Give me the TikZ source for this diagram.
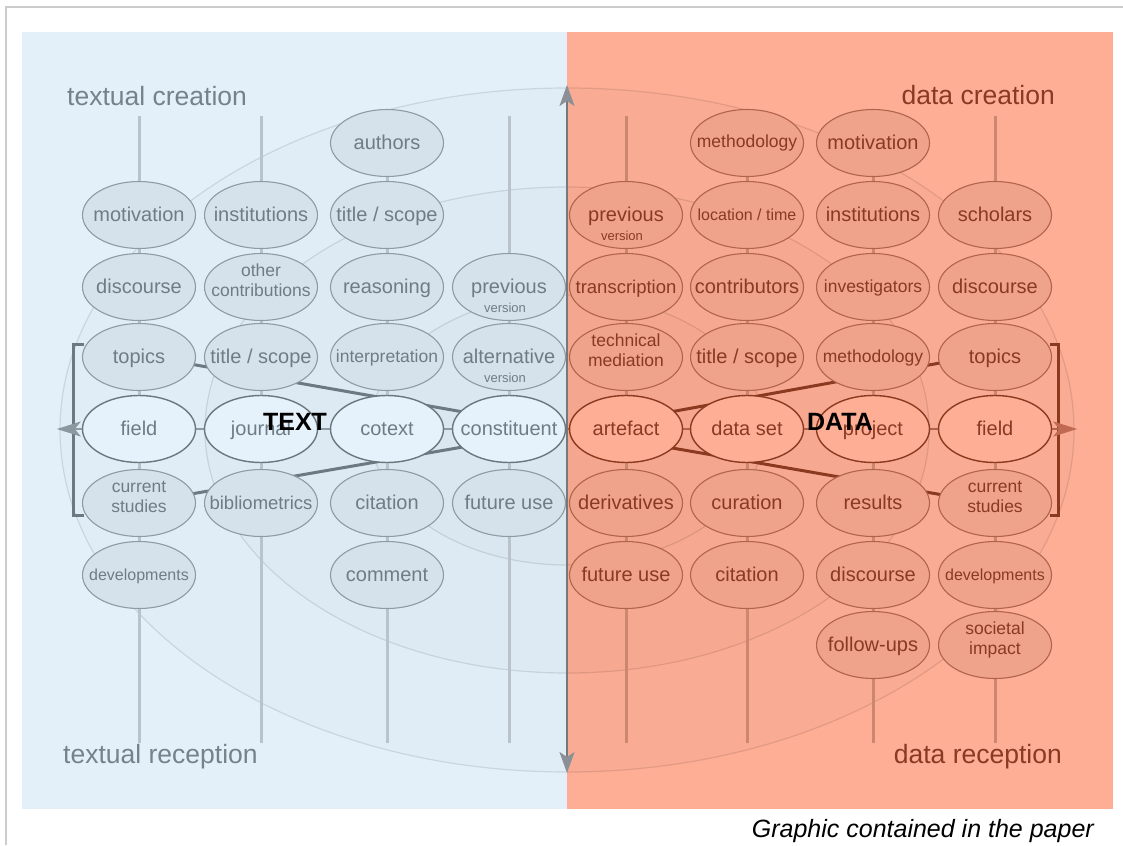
\documentclass[tikz,border=0pt]{standalone}
\usepackage{fontspec}
\setmainfont{Liberation Sans}
\usetikzlibrary{calc,arrows.meta,shapes.geometric}
\pgfdeclarelayer{bg}
\pgfdeclarelayer{mid}
\pgfsetlayers{bg,mid,main}

\definecolor{panelL}{HTML}{E3F0F9}
\definecolor{panelR}{HTML}{FDAE95}
\definecolor{fillL}{HTML}{D6E2EB}
\definecolor{drawL}{HTML}{8F9BA3}
\definecolor{coreL}{HTML}{E6F2FB}
\definecolor{coreLdraw}{HTML}{6B767D}
\definecolor{textL}{HTML}{6E7C86}
\definecolor{titleL}{HTML}{74828C}
\definecolor{stemL}{HTML}{BAC3C9}
\definecolor{fanL}{HTML}{6E7880}
\definecolor{tipL}{HTML}{8C989F}
\definecolor{fillR}{HTML}{EFA38B}
\definecolor{drawR}{HTML}{B0654B}
\definecolor{coreR}{HTML}{FDAE95}
\definecolor{coreRdraw}{HTML}{8B3A20}
\definecolor{textR}{HTML}{8A3A22}
\definecolor{stemR}{HTML}{CC8770}
\definecolor{tipR}{HTML}{C06A52}
\definecolor{framegray}{HTML}{CCCCCC}
\definecolor{axisgray}{HTML}{74797D}
\definecolor{axistip}{HTML}{8A9096}

% text placed on a fixed baseline inside a bubble (zero-size box)
\newcommand\bone[2][6]{\makebox[0pt]{\raisebox{-#1pt}[0pt][0pt]{#2}}}
\newcommand\btwo[2]{%
  \makebox[0pt]{\raisebox{11pt}[0pt][0pt]{\makebox[0pt]{#1}}}%
  \makebox[0pt]{\raisebox{-9pt}[0pt][0pt]{\makebox[0pt]{#2}}}}
\newcommand\bver[1]{%
  \makebox[0pt]{\raisebox{-6pt}[0pt][0pt]{#1}}%
  \makebox[0pt]{\raisebox{-25pt}[0pt][0pt]{\fontsize{13}{13}\selectfont\hspace*{-8pt}version}}}

\tikzset{
  bub/.style={ellipse, minimum width=113, minimum height=67, inner sep=0pt,
    line width=1.1pt, font=\fontsize{20}{24}\selectfont},
  lbub/.style={bub, fill=fillL, draw=drawL, text=textL},
  lcore/.style={bub, fill=coreL, draw=coreLdraw, line width=1.4pt, text=textL},
  rbub/.style={bub, fill=fillR, draw=drawR, text=textR},
  rcore/.style={bub, fill=coreR, draw=coreRdraw, line width=1.4pt, text=textR},
  sm/.style={font=\fontsize{17.5}{20}\selectfont},
  xs/.style={font=\fontsize{16}{18}\selectfont},
  md/.style={font=\fontsize{18.5}{22}\selectfont},
  ring/.style={draw=black, draw opacity=0.1, fill=black, fill opacity=0.011, line width=1.2pt},
  stemLs/.style={draw=stemL, line width=3pt},
  stemRs/.style={draw=stemR, line width=3pt},
  fanLs/.style={draw=fanL, line width=3pt},
  fanRs/.style={draw=coreRdraw, line width=3pt},
  brkL/.style={draw=fanL, line width=3pt},
  brkR/.style={draw=coreRdraw, line width=3pt},
  headline/.style={inner sep=0pt, font=\fontsize{26.5}{30}\selectfont},
  tag/.style={inner sep=0pt, anchor=base, text=black, font=\bfseries\fontsize{25}{30}\selectfont},
}

\begin{document}
\begin{tikzpicture}[x=1pt, y=-1pt]
\useasboundingbox (0,0) rectangle (1123,845);

\begin{pgfonlayer}{bg}
  \fill[white] (0,0) rectangle (1123,845);
  % the two halves
  \fill[panelL] (22,32) rectangle (567,809);
  \fill[panelR] (567,32) rectangle (1113,809);
  % concentric rings
  \path[ring] (567,430) ellipse [x radius=507, y radius=342];
  \path[ring] (567,430) ellipse [x radius=362, y radius=243];
  \path[ring] (567,430) ellipse [x radius=197, y radius=135];
\end{pgfonlayer}

% page frame
\coordinate (fA) at (6,845);
\coordinate (fB) at (6,7);
\coordinate (fC) at (1123,7);
\draw[framegray, line width=1.3pt] (fA) -- (fB) -- (fC);

% ---------------- text side ----------------
\node[lbub] (Lmot) at (139,215) {\bone{motivation}};
\node[lbub] (Ldis) at (139,287) {\bone{discourse}};
\node[lbub] (Ltop) at (139,357) {\bone{topics}};
\node[lcore] (Lfield) at (139,429) {\bone{field}};
\node[lbub,sm] (Lcur) at (139,503) {\btwo{current}{studies}};
\node[lbub,xs] (Ldev) at (139,575) {\bone[5]{developments}};

\node[lbub] (Linst) at (261,215) {\bone{institutions}};
\node[lbub,sm] (Loth) at (261,287) {\btwo{other}{contributions}};
\node[lbub] (Ltitle) at (261,357) {\bone{title / scope}};
\node[lcore] (Ljour) at (261,429) {\bone{journal}};
\node[lbub,md] (Lbib) at (261,503) {\bone{bibliometrics}};

\node[lbub] (Lauth) at (387,143) {\bone{authors}};
\node[lbub] (Ltitleb) at (387,215) {\bone{title / scope}};
\node[lbub] (Lreas) at (387,287) {\bone{reasoning}};
\node[lbub,sm] (Linterp) at (387,357) {\bone[5]{interpretation}};
\node[lcore] (Lcotext) at (387,429) {\bone{cotext}};
\node[lbub] (Lcit) at (387,503) {\bone{citation}};
\node[lbub] (Lcom) at (387,575) {\bone{comment}};

\node[lbub] (Lprev) at (509,287) {\bver{previous}};
\node[lbub] (Lalt) at (509,357) {\bver{alternative}};
\node[lcore] (Lconst) at (509,429) {\bone{constituent}};
\node[lbub] (Lfut) at (509,503) {\bone{future use}};

% ---------------- data side ----------------
\node[rbub] (Rprev) at (626,215) {\bver{previous}};
\node[rbub,md] (Rtrans) at (626,287) {\bone{transcription}};
\node[rbub,sm] (Rtech) at (626,357) {\btwo{technical}{mediation}};
\node[rcore] (Rart) at (626,429) {\bone{artefact}};
\node[rbub] (Rder) at (626,503) {\bone{derivatives}};
\node[rbub] (Rfut) at (626,575) {\bone{future use}};

\node[rbub,sm] (Rmeth) at (747,143) {\bone[5]{methodology}};
\node[rbub,xs] (Rloc) at (747,215) {\bone[5]{location / time}};
\node[rbub] (Rcontr) at (747,287) {\bone{contributors}};
\node[rbub] (Rtitle) at (747,357) {\bone{title / scope}};
\node[rcore] (Rdata) at (747,429) {\bone{data set}};
\node[rbub] (Rcura) at (747,503) {\bone{curation}};
\node[rbub] (Rcit) at (747,575) {\bone{citation}};

\node[rbub] (Rmot) at (873,143) {\bone{motivation}};
\node[rbub] (Rinst) at (873,215) {\bone{institutions}};
\node[rbub,sm] (Rinv) at (873,287) {\bone[5]{investigators}};
\node[rbub,sm] (Rmethb) at (873,357) {\bone[5]{methodology}};
\node[rcore] (Rproj) at (873,429) {\bone{project}};
\node[rbub] (Rres) at (873,503) {\bone{results}};
\node[rbub] (Rdis) at (873,575) {\bone{discourse}};
\node[rbub] (Rfol) at (873,645) {\bone{follow-ups}};

\node[rbub] (Rsch) at (995,215) {\bone{scholars}};
\node[rbub] (Rdisb) at (995,287) {\bone{discourse}};
\node[rbub] (Rtop) at (995,357) {\bone{topics}};
\node[rcore] (Rfield) at (995,429) {\bone{field}};
\node[rbub,sm] (Rcur) at (995,503) {\btwo{current}{studies}};
\node[rbub,xs] (Rdev) at (995,575) {\bone[5]{developments}};
\node[rbub,sm] (Rsoc) at (995,645) {\btwo{societal}{impact}};

% ---------------- connectors behind the bubbles ----------------
\begin{pgfonlayer}{mid}
  \foreach \n/\x in {1/139,2/261,3/387,4/509,5/626,6/747,7/873,8/995} {
    \coordinate (s\n a) at (\x,116);
    \coordinate (s\n b) at (\x,743);
  }
  \foreach \n in {1,2,3,4} \draw[stemLs] (s\n a) -- (s\n b);
  \foreach \n in {5,6,7,8} \draw[stemRs] (s\n a) -- (s\n b);
  % core row
  \draw[drawL, line width=2pt] (Lfield.center) -- (Lconst.center);
  \draw[drawR, line width=2pt] (Lconst.center) -- (Rart.center) -- (Rfield.center);
  % fans
  \draw[fanLs] ($(Ltop.center)+(0,-2)$) -- ($(Lconst.center)+(0,-9)$);
  \draw[fanLs] (Lcur.center) -- ($(Lconst.center)+(0,10)$);
  \draw[fanRs] ($(Rart.center)+(0,-9)$) -- ($(Rtop.center)+(0,-4)$);
  \draw[fanRs] ($(Rart.center)+(0,11)$) -- ($(Rcur.center)+(0,1)$);
  % vertical axis
  \coordinate (axT) at (567,85);
  \coordinate (axB) at (567,773);
  \draw[axisgray, line width=2.2pt,
        {Stealth[length=21pt, width=15pt, inset=5pt, color=axistip]}-{Stealth[length=21pt, width=15pt, inset=5pt, color=axistip]}]
        (axB) -- (axT);
\end{pgfonlayer}

% brackets and outward arrows
\draw[brkL] ($(Ltop.west)+(2,-13)$) -- ++(-10,0) |- ($(Lcur.west)+(2,12)$);
\draw[drawL, line width=2pt, -{Stealth[length=24pt, width=15pt, inset=6pt, color=tipL]}]
      (Lfield.west) -- ++(-25,0) coordinate (tipLeft);
\draw[brkR] ($(Rtop.east)+(-2,-13)$) -- ++(8,0) |- ($(Rcur.east)+(-2,12)$);
\draw[drawR, line width=2pt, -{Stealth[length=24pt, width=15pt, inset=6pt, color=tipR]}]
      (Rfield.east) -- ++(25,0) coordinate (tipRight);

% tags
\node[tag] (tagText) at (295,430) {TEXT};
\node[tag] (tagData) at (840,430) {DATA};

% headings
\node[headline, text=titleL, anchor=base west] (hTC) at (67,106) {textual creation};
\node[headline, text=titleL, anchor=base west] (hTR) at (63,763) {textual reception};
\node[headline, text=textR, anchor=base east] (hDC) at (1055,105) {data creation};
\node[headline, text=textR, anchor=base east] (hDR) at (1062,763) {data reception};

% caption
\node[inner sep=0pt, anchor=base east, font=\itshape\fontsize{25}{30}\selectfont] (cap)
      at (1094,837) {Graphic contained in the paper};
\end{tikzpicture}
\end{document}
